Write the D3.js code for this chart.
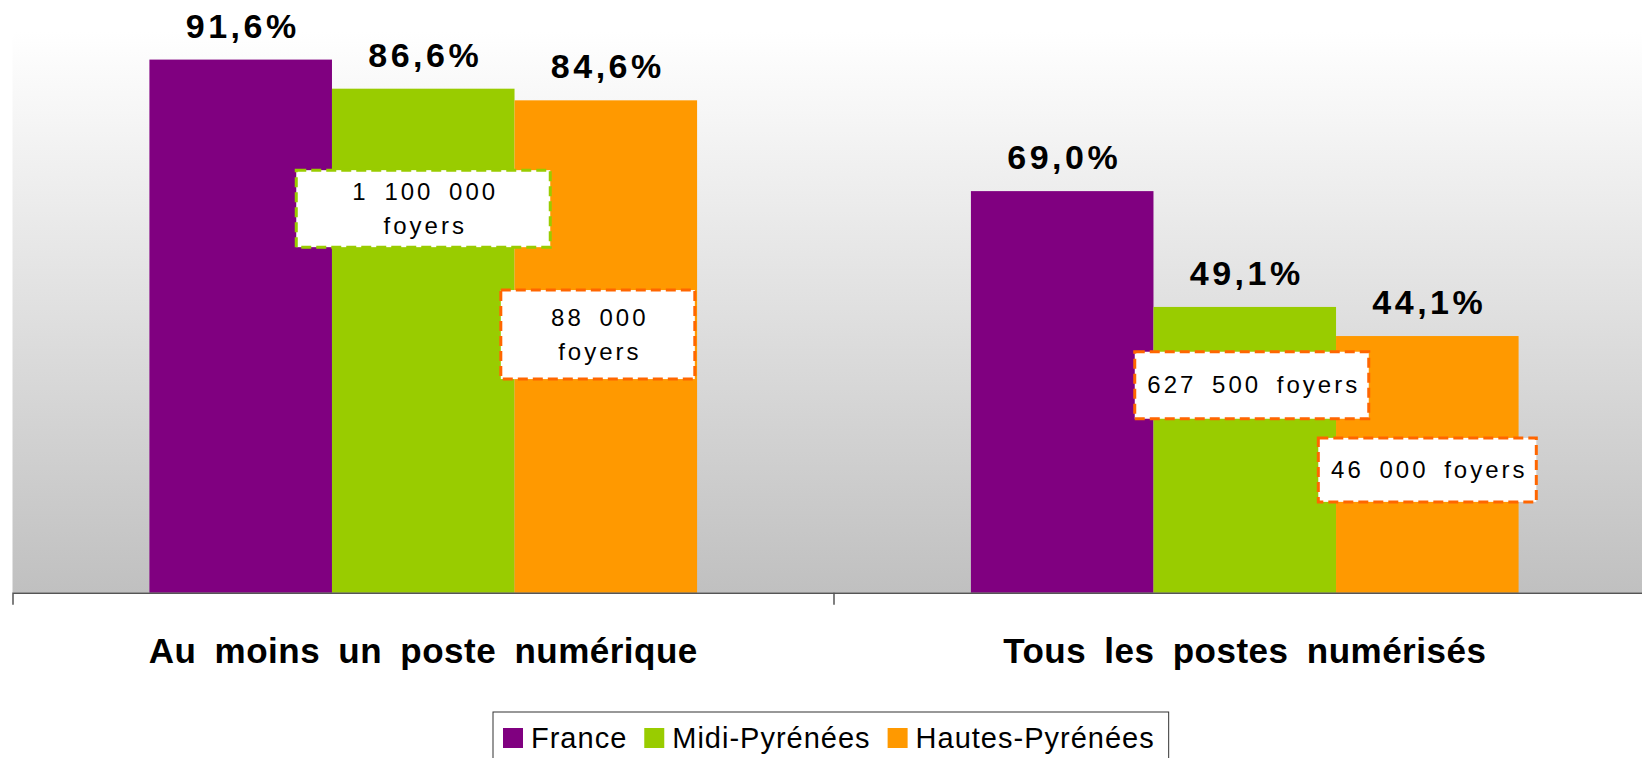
<!DOCTYPE html>
<html lang="fr">
<head>
<meta charset="UTF-8">
<title>Postes numériques</title>
<script src="https://cdn.jsdelivr.net/npm/d3@7"></script>
<style>
    body { margin: 0; background: #fff; }
    svg { display: block; font-family: 'Liberation Sans', Arial, sans-serif; }
</style>
</head>
<body>
<script>
// Data
var categories = ['Au moins un poste numérique', 'Tous les postes numérisés'];
var seriesNames = ['France', 'Midi-Pyrénées', 'Hautes-Pyrénées'];
var franceValues = [91.6, 69.0];
var midiValues = [86.6, 49.1];
var hautesValues = [84.6, 44.1];
var seriesColors = ['#800080', '#99cc00', '#ff9900'];

// Callout boxes: text lines, category, series, level (in %) of the box top
var noteLines = [['1 100 000', 'foyers'], ['88 000', 'foyers'], ['627 500 foyers'], ['46 000 foyers']];
var noteCategory = [0, 0, 1, 1];
var noteSeries = [1, 2, 1, 2];
var noteLevel = [72.6, 52.0, 41.4, 26.6];
var noteColors = ['#99cc00', '#ff6600', '#ff6600', '#ff6600'];

var seriesValues = [franceValues, midiValues, hautesValues];

// Dimensions
var svgwidth = 1642, svgheight = 758;
var axisY = 592.7, plotLeft = 12.5, plotRight = 1655.5, plotTop = 32;

var svg = d3.select('body').append('svg')
    .attr('width', svgwidth)
    .attr('height', svgheight);

// Background gradient of the plot area
var grad = svg.append('defs').append('linearGradient')
    .attr('id', 'bg')
    .attr('x1', 0).attr('y1', 0).attr('x2', 0).attr('y2', 1);
grad.append('stop').attr('offset', '0%').attr('stop-color', '#ffffff');
grad.append('stop').attr('offset', '100%').attr('stop-color', '#c0c0c0');

svg.append('rect')
    .attr('x', plotLeft)
    .attr('y', plotTop)
    .attr('width', plotRight - plotLeft)
    .attr('height', axisY - plotTop)
    .attr('fill', 'url(#bg)');

// Scales
var x0 = d3.scaleBand()
    .domain(categories)
    .range([plotLeft, plotRight])
    .paddingInner(1 / 3)
    .paddingOuter(1 / 6);

var x1 = d3.scaleBand()
    .domain(seriesNames)
    .range([0, x0.bandwidth()]);

var y = d3.scaleLinear()
    .domain([0, 100])
    .range([axisY, axisY - 582]);

// Bars
var rows = [];
categories.forEach(function(c, ci) {
    seriesNames.forEach(function(s, si) {
        rows.push({cat: c, series: s, value: seriesValues[si][ci], color: seriesColors[si]});
    });
});

svg.append('g').selectAll('rect')
    .data(rows)
    .enter()
    .append('rect')
    .attr('x', d => x0(d.cat) + x1(d.series))
    .attr('y', d => y(d.value))
    .attr('width', x1.bandwidth())
    .attr('height', d => axisY - y(d.value))
    .attr('fill', d => d.color);

// Value labels
svg.append('g').selectAll('text')
    .data(rows)
    .enter()
    .append('text')
    .attr('x', d => x0(d.cat) + x1(d.series) + x1.bandwidth() / 2 + 2)
    .attr('y', d => y(d.value) - 22)
    .attr('text-anchor', 'middle')
    .style('font-size', '34px')
    .style('font-weight', 'bold')
    .style('letter-spacing', '3.5px')
    .text(d => d.value.toFixed(1).replace('.', ',') + '%');

// X axis (domain line with outer ticks, plus the tick between groups)
var xAxis = d3.axisBottom(x0).tickSize(0).tickSizeOuter(12).tickFormat('');
var axisG = svg.append('g')
    .attr('transform', 'translate(0,' + axisY + ')')
    .call(xAxis);
axisG.select('.domain').attr('stroke', '#555').attr('stroke-width', 1.5);
axisG.append('line')
    .attr('x1', plotLeft + x0.step())
    .attr('x2', plotLeft + x0.step())
    .attr('y1', 0)
    .attr('y2', 12)
    .attr('stroke', '#555')
    .attr('stroke-width', 1.5);

// Category labels
svg.append('g').selectAll('text')
    .data(categories)
    .enter()
    .append('text')
    .attr('x', d => x0(d) + x0.bandwidth() / 2)
    .attr('y', 663)
    .attr('text-anchor', 'middle')
    .style('font-size', '35px')
    .style('font-weight', 'bold')
    .style('letter-spacing', '0.5px')
    .style('word-spacing', '8px')
    .text(d => d);

// Callout boxes
var noteW = [254, 194, 234, 218], noteH = [77, 89, 67, 64], noteDx = [0, -8, 7, 0];
noteLines.forEach(function(lines, i) {
    var cat = categories[noteCategory[i]], ser = seriesNames[noteSeries[i]];
    var cx = x0(cat) + x1(ser) + x1.bandwidth() / 2 + noteDx[i];
    var top = y(noteLevel[i]);
    var g = svg.append('g');
    g.append('rect')
        .attr('x', cx - noteW[i] / 2)
        .attr('y', top)
        .attr('width', noteW[i])
        .attr('height', noteH[i])
        .attr('fill', '#fff')
        .attr('stroke', noteColors[i])
        .attr('stroke-width', 3)
        .attr('stroke-dasharray', '10,5');
    var lh = 34;
    var firstBase = top + noteH[i] / 2 + 8 - (lines.length - 1) * lh / 2;
    lines.forEach(function(t, li) {
        g.append('text')
            .attr('x', cx + 2)
            .attr('y', firstBase + li * lh)
            .attr('text-anchor', 'middle')
            .style('font-size', '24px')
            .style('letter-spacing', '3px')
            .style('word-spacing', '6px')
            .text(t);
    });
});

// Legend
var legend = svg.append('g');
var legendBox = legend.append('rect')
    .attr('y', 712)
    .attr('height', 50)
    .attr('fill', '#fff')
    .attr('stroke', '#333')
    .attr('stroke-width', 1);
var lx = 503;
seriesNames.forEach(function(s, i) {
    legend.append('rect')
        .attr('x', lx)
        .attr('y', 728)
        .attr('width', 20)
        .attr('height', 20)
        .attr('fill', seriesColors[i]);
    var t = legend.append('text')
        .attr('x', lx + 28)
        .attr('y', 748)
        .style('font-size', '29px')
        .style('letter-spacing', '1px')
        .text(s);
    lx += 28 + t.node().getComputedTextLength() + (i < seriesNames.length - 1 ? 17 : 14);
});
legendBox.attr('x', 493).attr('width', lx - 493);
</script>
</body>
</html>
